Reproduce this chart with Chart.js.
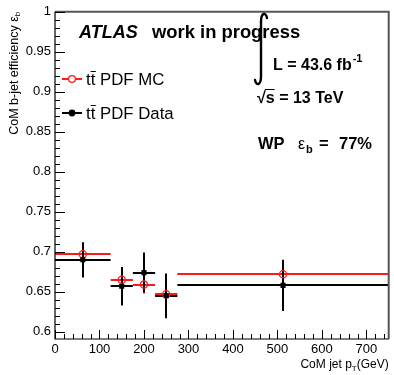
<!DOCTYPE html>
<html>
<head>
<meta charset="utf-8">
<script src="https://cdn.jsdelivr.net/npm/chart.js@4.4.0/dist/chart.umd.min.js"></script>
<style>
html, body { margin: 0; padding: 0; background: #fff; }
#wrap { width: 394px; height: 375px; }
</style>
</head>
<body>
<div id="wrap"><canvas id="chart"></canvas></div>
<script>
// pT bins (GeV)
var binLow = [0, 125, 175, 225, 275];
var binHigh = [125, 175, 225, 275, 750];
var binCenter = [62.5, 150, 200, 250, 512.5];

// b-jet efficiency, MC and data
var mcEff = [0.697, 0.665, 0.659, 0.647, 0.672];
var mcErr = [0.008, 0.008, 0.011, 0.010, 0.014];
var dataEff = [0.690, 0.657, 0.674, 0.645, 0.658];
var dataErr = [0.022, 0.024, 0.025, 0.028, 0.032];

// axis ticks
var xTicks = [0, 100, 200, 300, 400, 500, 600, 700];
var yTicks = [0.6, 0.65, 0.7, 0.75, 0.8, 0.85, 0.9, 0.95, 1];
var yTickLabels = ['0.6', '0.65', '0.7', '0.75', '0.8', '0.85', '0.9', '0.95', '1'];

var RED = '#ff1a1a';
var FONT = '"Liberation Sans", Arial, sans-serif';

// draws error bars, frame, inward ticks and all the ROOT-style labels
var atlasPlugin = {
    id: 'atlas',
    beforeDatasetsDraw: function(chart) {
        var ctx = chart.ctx, xs = chart.scales.x, ys = chart.scales.y;
        function errBars(eff, err, col) {
            ctx.strokeStyle = col;
            ctx.lineWidth = 2;
            ctx.beginPath();
            for (var i = 0; i < eff.length; i++) {
                var y = Math.round(ys.getPixelForValue(eff[i]));
                ctx.moveTo(xs.getPixelForValue(binLow[i]), y);
                ctx.lineTo(xs.getPixelForValue(binHigh[i]), y);
                var x = Math.round(xs.getPixelForValue(binCenter[i]));
                ctx.moveTo(x, ys.getPixelForValue(eff[i] + err[i]));
                ctx.lineTo(x, ys.getPixelForValue(eff[i] - err[i]));
            }
            ctx.stroke();
        }
        ctx.save();
        errBars(mcEff, mcErr, RED);
        errBars(dataEff, dataErr, '#000');
        ctx.restore();
    },
    afterDraw: function(chart) {
        var ctx = chart.ctx, a = chart.chartArea, xs = chart.scales.x, ys = chart.scales.y;
        ctx.save();

        // frame
        ctx.strokeStyle = '#555';
        ctx.lineWidth = 2;
        ctx.beginPath();
        ctx.moveTo(a.left, a.top);
        ctx.lineTo(a.right, a.top);
        ctx.lineTo(a.right, a.bottom);
        ctx.stroke();
        ctx.strokeStyle = '#000';
        ctx.lineWidth = 1.2;
        ctx.beginPath();
        ctx.moveTo(a.left, a.top);
        ctx.lineTo(a.left, a.bottom);
        ctx.lineTo(a.right, a.bottom);
        ctx.stroke();

        // ticks pointing inwards
        ctx.lineWidth = 1;
        ctx.beginPath();
        for (var v = 0; v <= 750; v += 20) {
            var px = Math.round(xs.getPixelForValue(v)) + 0.5;
            var len = (v % 100 === 0) ? 9 : 5;
            ctx.moveTo(px, a.bottom);
            ctx.lineTo(px, a.bottom - len);
        }
        for (var k = 60; k <= 100; k++) {
            var py = Math.round(ys.getPixelForValue(k / 100)) + 0.5;
            var ylen = (k % 5 === 0) ? 10 : 5;
            ctx.moveTo(a.left, py);
            ctx.lineTo(a.left + ylen, py);
        }
        ctx.stroke();

        ctx.fillStyle = '#000';
        ctx.textBaseline = 'alphabetic';

        // y title, right aligned at top
        ctx.save();
        ctx.translate(15, a.top);
        ctx.rotate(-Math.PI / 2);
        ctx.textAlign = 'right';
        ctx.textBaseline = 'middle';
        ctx.font = '8px ' + FONT;
        var wb = ctx.measureText('b').width;
        ctx.fillText('b', 0, 3);
        ctx.font = '12.5px ' + FONT;
        ctx.fillText('CoM b-jet efficiency \u03b5', -wb, 0);
        ctx.restore();

        // x title, right aligned at bottom
        ctx.textAlign = 'left';
        ctx.font = '12px ' + FONT;
        var t1 = 'CoM jet p', t3 = '(GeV)';
        var w1 = ctx.measureText(t1).width, w3 = ctx.measureText(t3).width;
        ctx.font = '8px ' + FONT;
        var w2 = ctx.measureText('T').width;
        var x0 = a.right - (w1 + w2 + w3);
        ctx.font = '12px ' + FONT;
        ctx.fillText(t1, x0, 368);
        ctx.fillText(t3, x0 + w1 + w2, 368);
        ctx.font = '8px ' + FONT;
        ctx.fillText('T', x0 + w1, 371);

        // ATLAS label
        ctx.font = 'italic bold 18px ' + FONT;
        ctx.fillText('ATLAS', 79, 38);
        ctx.font = 'bold 18.4px ' + FONT;
        ctx.fillText('work in progress', 152, 38);

        // integral sign
        ctx.lineWidth = 2.4;
        ctx.lineCap = 'round';
        ctx.beginPath();
        ctx.moveTo(267, 18);
        ctx.bezierCurveTo(266, 12, 261, 12, 261, 22);
        ctx.lineTo(261, 76);
        ctx.bezierCurveTo(261, 86, 256, 86, 255, 80);
        ctx.stroke();
        ctx.lineCap = 'butt';

        ctx.font = 'bold 16px ' + FONT;
        ctx.fillText('L = 43.6 fb', 273, 70);
        var wl = ctx.measureText('L = 43.6 fb').width;
        ctx.font = 'bold 11px ' + FONT;
        ctx.fillText('-1', 273 + wl + 1, 62);

        // sqrt(s)
        ctx.font = 'bold 16px ' + FONT;
        ctx.fillText('\u221a', 257, 103);
        var wr = ctx.measureText('\u221a').width;
        ctx.fillText('s = 13 TeV', 257 + wr, 103);
        var ws = ctx.measureText('s').width;
        ctx.lineWidth = 1;
        ctx.beginPath();
        ctx.moveTo(257 + wr - 1, 89.5);
        ctx.lineTo(257 + wr + ws, 89.5);
        ctx.stroke();

        // working point
        ctx.font = 'bold 16.5px ' + FONT;
        ctx.fillText('WP', 258, 149);
        ctx.font = '16px ' + FONT;
        ctx.fillText('\u03b5', 298, 149);
        ctx.font = 'bold 11px ' + FONT;
        ctx.fillText('b', 306, 153);
        ctx.font = 'bold 16.5px ' + FONT;
        ctx.fillText('=', 319, 149);
        ctx.fillText('77%', 339, 149);

        // legend
        function legendEntry(y, col, open, label) {
            ctx.strokeStyle = col;
            ctx.lineWidth = 2;
            ctx.beginPath();
            ctx.moveTo(62, y);
            ctx.lineTo(82, y);
            ctx.stroke();
            ctx.beginPath();
            ctx.arc(72, y, 3.4, 0, Math.PI * 2);
            if (open) {
                ctx.fillStyle = '#fff';
                ctx.fill();
                ctx.lineWidth = 1.3;
                ctx.stroke();
            } else {
                ctx.fillStyle = col;
                ctx.fill();
            }
            ctx.fillStyle = '#000';
            ctx.font = '16.8px ' + FONT;
            var wt = ctx.measureText('t').width;
            ctx.fillText('tt ' + label, 86, y + 6);
            ctx.lineWidth = 1;
            ctx.strokeStyle = '#000';
            ctx.beginPath();
            ctx.moveTo(86 + wt, y - 7.5);
            ctx.lineTo(86 + 2 * wt + 0.5, y - 7.5);
            ctx.stroke();
        }
        legendEntry(79, RED, true, 'PDF MC');
        legendEntry(113, '#000', false, 'PDF Data');

        ctx.restore();
    }
};

var ctx = document.getElementById('chart').getContext('2d');
var myChart = new Chart(ctx, {
    type: 'scatter',
    data: {
        datasets: [{
            label: 'tt PDF Data',
            data: binCenter.map(function(x, i) { return { x: x, y: dataEff[i] }; }),
            pointStyle: 'rect',
            pointRadius: 3.6,
            backgroundColor: '#000',
            borderColor: '#000',
            borderWidth: 0
        }, {
            label: 'tt PDF MC',
            data: binCenter.map(function(x, i) { return { x: x, y: mcEff[i] }; }),
            pointStyle: 'circle',
            pointRadius: 3.6,
            backgroundColor: 'rgba(0,0,0,0)',
            borderColor: RED,
            borderWidth: 1.3
        }]
    },
    options: {
        responsive: true,
        maintainAspectRatio: false,
        animation: false,
        events: [],
        layout: { padding: { top: 10, right: 1.5, left: 0, bottom: 0 } },
        plugins: {
            legend: { display: false },
            tooltip: { enabled: false }
        },
        scales: {
            x: {
                type: 'linear',
                min: 0,
                max: 750,
                grid: { display: false, drawTicks: false },
                border: { display: false },
                afterBuildTicks: function(s) { s.ticks = xTicks.map(function(v) { return { value: v }; }); },
                afterFit: function(s) { s.height = 36; },
                ticks: {
                    color: '#000',
                    font: { family: FONT, size: 13 },
                    padding: 3,
                    maxRotation: 0,
                    autoSkip: false
                }
            },
            y: {
                type: 'linear',
                min: 0.591,
                max: 1,
                grid: { display: false, drawTicks: false },
                border: { display: false },
                afterBuildTicks: function(s) { s.ticks = yTicks.map(function(v) { return { value: v }; }); },
                afterFit: function(s) { s.width = 55; },
                ticks: {
                    color: '#000',
                    font: { family: FONT, size: 13 },
                    padding: 4,
                    autoSkip: false,
                    callback: function(v, i) { return yTickLabels[i]; }
                }
            }
        }
    },
    plugins: [atlasPlugin]
});
</script>
</body>
</html>
